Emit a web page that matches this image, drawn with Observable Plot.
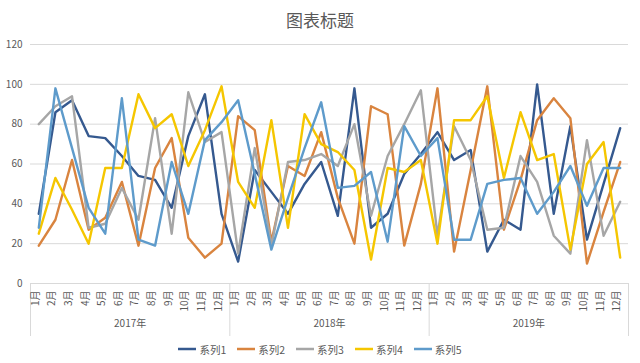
<!DOCTYPE html>
<html>
<head>
<meta charset="utf-8">
<script src="https://cdn.jsdelivr.net/npm/d3@7"></script>
<script src="https://cdn.jsdelivr.net/npm/@observablehq/plot@0.6"></script>
<style>
  body { margin: 0; background: #fff; font-family: "Noto Sans CJK SC", "Noto Sans", sans-serif; }
  #wrap { width: 640px; height: 363px; overflow: hidden; position: relative; }
  #title { height: 36px; line-height: 40px; text-align: center; font-size: 17px; color: #595959; }
  #legend { height: 22px; display: flex; justify-content: center; align-items: center; gap: 11px; font-size: 10.5px; color: #595959; }
  .item { display: flex; align-items: center; gap: 3px; }
  #chart svg { display: block; }
</style>
</head>
<body>
<div id="wrap">
  <div id="title">图表标题</div>
  <div id="chart"></div>
  <div id="legend"></div>
</div>
<script>
const monthLabels = ["1月","2月","3月","4月","5月","6月","7月","8月","9月","10月","11月","12月"];
const yearLabels = ["2017年","2018年","2019年"];
const yTicks = [0, 20, 40, 60, 80, 100, 120];
const seriesNames = ["系列1","系列2","系列3","系列4","系列5"];
const seriesColors = ["#35598F","#D9843F","#A6A6A6","#F5C600","#5E9BCB"];

const series1 = [35,86,92,74,73,64,54,52,38,74,95,35, 11,57,46,35,50,61,34,98,28,35,55,65, 76,62,67,16,32,27,100,35,79,22,50,78];
const series2 = [19,32,62,27,33,51,19,58,73,23,13,20, 84,77,21,59,54,76,43,20,89,85,19,50, 98,16,57,99,27,52,82,93,83,10,36,61];
const series3 = [80,89,94,28,30,48,32,83,25,96,71,76, 15,68,19,61,62,65,59,80,34,64,80,97, 24,79,62,27,28,64,51,24,15,72,24,41];
const series4 = [25,53,37,20,58,58,95,78,85,59,77,99, 51,38,82,28,85,70,66,57,12,58,56,62, 20,82,82,94,53,86,62,65,17,60,71,13];
const series5 = [28,98,68,38,25,93,22,19,61,35,72,81, 92,55,17,43,68,91,48,49,56,21,79,64, 73,22,22,50,52,53,35,46,59,39,58,58];

const allSeries = [series1, series2, series3, series4, series5];
const data = [];
allSeries.forEach((vals, s) => vals.forEach((v, i) => data.push({i, series: seriesNames[s], value: v})));

const nCat = yearLabels.length * monthLabels.length;
const monthData = d3.range(nCat).map(i => ({i, label: monthLabels[i % 12]}));
const yearData = yearLabels.map((label, k) => ({mid: k * 12 + 5.5, label}));
const separators = d3.range(0, nCat + 1, 12).map(k => k - 0.5);

const font = '"Noto Sans CJK SC", "Noto Sans", sans-serif';

const chart = Plot.plot({
  width: 640,
  height: 302,
  marginTop: 8,
  marginBottom: 55,
  marginLeft: 30,
  marginRight: 12,
  x: {type: "linear", domain: [-0.5, nCat - 0.5], axis: null},
  y: {domain: [0, 120], axis: null},
  color: {domain: seriesNames, range: seriesColors},
  style: {fontFamily: font, fontSize: "10px", color: "#595959", background: "transparent", overflow: "visible"},
  marks: [
    Plot.gridY(yTicks, {stroke: "#d9d9d9", strokeOpacity: 1, strokeWidth: 1}),
    Plot.axisY(yTicks, {tickSize: 0, tickPadding: 8, fill: "#595959", fontSize: 10, tickFormat: d => d, label: null}),
    Plot.ruleX(separators, {x: d => d, y1: d => 0, y2: d => 0, insetBottom: -53, stroke: "#d9d9d9", strokeWidth: 1}),
    Plot.text(monthData, {x: "i", text: "label", rotate: -90, textAnchor: "end", frameAnchor: "bottom", dy: 7, fill: "#595959", fontSize: 10}),
    Plot.text(yearData, {x: "mid", text: "label", frameAnchor: "bottom", dy: 43, fill: "#595959", fontSize: 10}),
    Plot.line(data, {x: "i", y: "value", z: "series", stroke: "series", strokeWidth: 2.4, strokeLinejoin: "round", strokeLinecap: "round"})
  ]
});
document.getElementById("chart").appendChild(chart);

const legend = document.getElementById("legend");
seriesNames.forEach((name, s) => {
  const item = document.createElement("span");
  item.className = "item";
  item.innerHTML = `<svg width="18" height="8"><line x1="0" y1="4" x2="18" y2="4" stroke="${seriesColors[s]}" stroke-width="2.5"/></svg><span>${name}</span>`;
  legend.appendChild(item);
});
</script>
</body>
</html>
